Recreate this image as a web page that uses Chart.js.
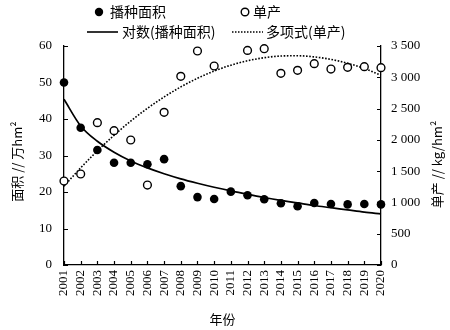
<!DOCTYPE html>
<html>
<head>
<meta charset="utf-8">
<script src="https://cdn.jsdelivr.net/npm/chart.js@4/dist/chart.umd.min.js"></script>
<style>
  html, body { margin: 0; padding: 0; background: #fff; }
</style>
</head>
<body>
<canvas id="areaYieldChart" width="450" height="330"></canvas>
<script>
const years = ['2001', '2002', '2003', '2004', '2005', '2006', '2007', '2008', '2009', '2010',
               '2011', '2012', '2013', '2014', '2015', '2016', '2017', '2018', '2019', '2020'];

// 播种面积 (万hm²)
const area = [50.0, 37.6, 31.5, 28.0, 28.0, 27.6, 29.0, 21.6, 18.6, 18.1,
              20.1, 19.1, 18.0, 16.9, 16.1, 17.0, 16.7, 16.6, 16.7, 16.6];

// 单产 (kg/hm²), 2011 has no point
const yieldVals = [1342, 1454, 2275, 2147, 1998, 1278, 2440, 3015, 3420, 3180,
                   null, 3430, 3457, 3063, 3111, 3218, 3132, 3159, 3170, 3154];

// trend lines as read at each year
const areaTrend = [45.4, 38.1, 33.9, 30.9, 28.5, 26.6, 25.0, 23.6, 22.4, 21.3,
                   20.3, 19.4, 18.5, 17.7, 17.0, 16.3, 15.7, 15.1, 14.5, 14.0];
const yieldTrend = [1260, 1553, 1824, 2073, 2300, 2504, 2686, 2846, 2984, 3100,
                    3193, 3264, 3313, 3340, 3344, 3326, 3286, 3224, 3140, 3033];

const areaMax = 60, areaStep = 10;
const yieldMax = 3500, yieldStep = 500;

const serif = '"Liberation Serif", "Noto Sans CJK SC", serif';
const cjk = '"Noto Sans CJK SC", "Liberation Serif", sans-serif';
const ink = '#000';

function spaced(v) {
    return String(v).replace(/(\d)(\d{3})$/, '$1 $2');
}

// inward tick marks, axis titles and the two-row legend
const decorations = {
    id: 'decorations',
    afterDraw(chart) {
        const ctx = chart.ctx;
        const { left, right, top, bottom } = chart.chartArea;
        const sx = chart.scales.x, sy = chart.scales.y, sy1 = chart.scales.y1;

        ctx.save();
        ctx.strokeStyle = ink;
        ctx.lineWidth = 1.2;
        ctx.beginPath();
        sx.ticks.forEach((t, i) => {
            const px = Math.round(sx.getPixelForTick(i)) + 0.5;
            ctx.moveTo(px, bottom);
            ctx.lineTo(px, bottom - 4);
        });
        sy.ticks.forEach((t, i) => {
            const py = Math.round(sy.getPixelForTick(i)) + 0.5;
            ctx.moveTo(left, py);
            ctx.lineTo(left + 4, py);
        });
        sy1.ticks.forEach((t, i) => {
            const py = Math.round(sy1.getPixelForTick(i)) + 0.5;
            ctx.moveTo(right, py);
            ctx.lineTo(right - 4, py);
        });
        ctx.stroke();

        ctx.fillStyle = ink;
        ctx.textBaseline = 'middle';

        // axis titles
        ctx.font = '13px ' + cjk;
        ctx.textAlign = 'center';
        ctx.save();
        ctx.translate(17, (top + bottom) / 2 + 6);
        ctx.rotate(-Math.PI / 2);
        ctx.fillText('面积 // 万hm²', 0, 0);
        ctx.restore();
        ctx.save();
        ctx.translate(437, (top + bottom) / 2 + 9);
        ctx.rotate(-Math.PI / 2);
        ctx.fillText('单产 // kg/hm²', 0, 0);
        ctx.restore();
        ctx.fillText('年份', (left + right) / 2, 319);

        // legend
        ctx.textAlign = 'left';
        ctx.font = '14px ' + cjk;

        ctx.beginPath();
        ctx.arc(99, 12, 4.2, 0, Math.PI * 2);
        ctx.fill();
        ctx.fillText('播种面积', 110, 12);

        ctx.beginPath();
        ctx.arc(245, 12, 3.8, 0, Math.PI * 2);
        ctx.fillStyle = '#fff';
        ctx.fill();
        ctx.lineWidth = 1.4;
        ctx.stroke();
        ctx.fillStyle = ink;
        ctx.fillText('单产', 253, 12);

        ctx.lineWidth = 1.6;
        ctx.beginPath();
        ctx.moveTo(87, 32);
        ctx.lineTo(118, 32);
        ctx.stroke();
        ctx.fillText('对数(播种面积)', 122, 32);

        ctx.setLineDash([1.5, 1.5]);
        ctx.beginPath();
        ctx.moveTo(232, 32);
        ctx.lineTo(263, 32);
        ctx.stroke();
        ctx.setLineDash([]);
        ctx.fillText('多项式(单产)', 266, 32);

        ctx.restore();
    }
};

new Chart(document.getElementById('areaYieldChart'), {
    type: 'line',
    data: {
        labels: years,
        datasets: [
            {
                label: '播种面积',
                data: area,
                yAxisID: 'y',
                showLine: false,
                clip: false,
                pointRadius: 4.3,
                pointBackgroundColor: ink,
                pointBorderColor: ink,
                pointBorderWidth: 0,
                order: 0
            },
            {
                label: '单产',
                data: yieldVals,
                yAxisID: 'y1',
                showLine: false,
                clip: false,
                pointRadius: 3.9,
                pointBackgroundColor: '#fff',
                pointBorderColor: ink,
                pointBorderWidth: 1.4,
                order: 0
            },
            {
                label: '对数(播种面积)',
                data: areaTrend,
                yAxisID: 'y',
                borderColor: ink,
                borderWidth: 1.7,
                pointRadius: 0,
                cubicInterpolationMode: 'monotone',
                order: 1
            },
            {
                label: '多项式(单产)',
                data: yieldTrend,
                yAxisID: 'y1',
                borderColor: ink,
                borderWidth: 1.6,
                borderDash: [1.6, 1.6],
                pointRadius: 0,
                cubicInterpolationMode: 'monotone',
                order: 1
            }
        ]
    },
    options: {
        responsive: false,
        animation: false,
        devicePixelRatio: 1,
        layout: { padding: { top: 46, left: 0, right: 0, bottom: 0 } },
        plugins: {
            legend: { display: false },
            tooltip: { enabled: false }
        },
        scales: {
            x: {
                type: 'category',
                offset: false,
                grid: { display: false, drawTicks: false },
                border: { display: true, color: ink, width: 1.3 },
                ticks: {
                    autoSkip: false,
                    minRotation: 90,
                    maxRotation: 90,
                    padding: 5,
                    color: ink,
                    font: { family: serif, size: 13 }
                },
                afterFit: s => { s.height = 65; }
            },
            y: {
                position: 'left',
                min: 0,
                max: areaMax,
                grid: { display: false, drawTicks: false },
                border: { display: true, color: ink, width: 1.3 },
                ticks: {
                    stepSize: areaStep,
                    padding: 12,
                    color: ink,
                    font: { family: serif, size: 13 }
                },
                afterFit: s => { s.width = 64; }
            },
            y1: {
                position: 'right',
                min: 0,
                max: yieldMax,
                grid: { display: false, drawTicks: false },
                border: { display: true, color: ink, width: 1.3 },
                ticks: {
                    stepSize: yieldStep,
                    padding: 10,
                    color: ink,
                    font: { family: serif, size: 13 },
                    callback: v => spaced(v)
                },
                afterFit: s => { s.width = 69; }
            }
        }
    },
    plugins: [decorations]
});
</script>
</body>
</html>
